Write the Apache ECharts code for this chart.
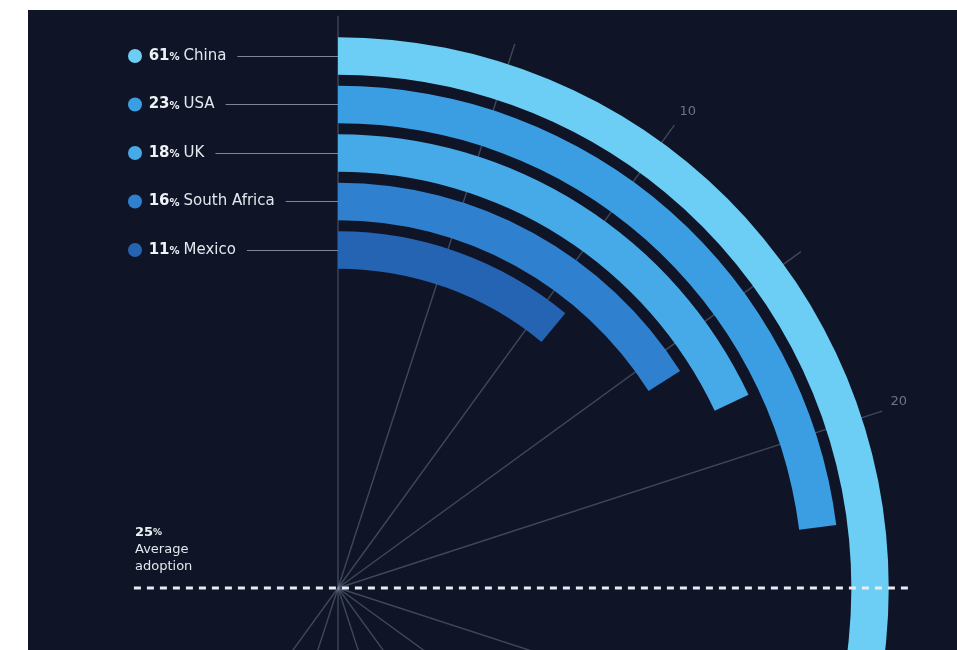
<!DOCTYPE html>
<html>
<head>
<meta charset="utf-8">
<script src="https://cdn.jsdelivr.net/npm/echarts@6/dist/echarts.min.js"></script>
<style>
  html, body { margin: 0; padding: 0; background: #fff; }
  #main { position: absolute; left: 28px; top: 10px; width: 929px; height: 640px; }
</style>
</head>
<body>
<div id="main"></div>
<script>
// adoption by country, inner ring first
var countries = ['Mexico', 'South Africa', 'UK', 'USA', 'China'];
var adoption = [11, 16, 18, 23, 61];
var barColors = ['#2563b3', '#2f80cf', '#47aae8', '#3c9ee2', '#6ccef5'];
var avgAdoption = 25;
var spokeTicks = [0, 5, 10, 15, 20, 25, 30, 35, 40, 45, 50, 55, 60];
var angleLabels = [10, 20];

var bg = '#0f1526';
var chart = echarts.init(document.getElementById('main'));

var rich = {
    pct: { color: '#eef1f5', fontSize: 15, fontWeight: 'bold', fontFamily: 'DejaVu Sans' },
    sign: { color: '#eef1f5', fontSize: 10, fontWeight: 'bold', fontFamily: 'DejaVu Sans', padding: [3, 4, 0, 0] },
    name: { color: '#e3e7ee', fontSize: 15, fontFamily: 'DejaVu Sans' }
};
countries.forEach(function (c, i) {
    rich['dot' + i] = { width: 14, height: 14, borderRadius: 7, backgroundColor: barColors[i] };
});

var series = [];
// spokes
spokeTicks.forEach(function (a) {
    if (a === avgAdoption) return;
    series.push({
        type: 'line',
        coordinateSystem: 'polar',
        polarIndex: 1,
        symbol: 'none',
        silent: true,
        z: 1,
        lineStyle: { color: 'rgba(150,160,182,0.36)', width: 1.4 },
        data: [[0, a], [0.99, a]]
    });
});

series.push({
    type: 'bar',
    coordinateSystem: 'polar',
    polarIndex: 0,
    barCategoryGap: '23%',
    z: 2,
    data: adoption.map(function (v, i) {
        return { value: v, itemStyle: { color: barColors[i] } };
    })
});

// average line
series.push({
    type: 'line',
    coordinateSystem: 'polar',
    polarIndex: 1,
    symbol: 'none',
    silent: true,
    z: 5,
    lineStyle: { color: '#e9ecf3', width: 3, type: [7, 6] },
    data: [[0.986, avgAdoption], [0.362, avgAdoption + 50]]
});

var option = {
    backgroundColor: bg,
    animation: false,
    title: {
        left: 102,
        top: 509,
        text: '{b|' + avgAdoption + '}{s|%}\n{n|Average}\n{n|adoption}',
        textStyle: {
            rich: {
                b: { color: '#eef1f5', fontSize: 13, fontWeight: 'bold', fontFamily: 'DejaVu Sans', lineHeight: 17 },
                s: { color: '#eef1f5', fontSize: 9, fontWeight: 'bold', fontFamily: 'DejaVu Sans', lineHeight: 17 },
                n: { color: '#e3e7ee', fontSize: 13, fontWeight: 'normal', fontFamily: 'DejaVu Sans', lineHeight: 17 }
            }
        }
    },
    polar: [
        { center: [310, 578], radius: [313.7, 556.3] },
        { center: [310, 578], radius: [0, 578] }
    ],
    angleAxis: [
        { polarIndex: 0, type: 'value', min: 0, max: 100, startAngle: 90, clockwise: true, show: false },
        {
            polarIndex: 1, type: 'value', min: 0, max: 100, interval: 10, startAngle: 90, clockwise: true,
            axisLine: { show: false },
            axisTick: { show: false },
            splitLine: { show: false },
            axisLabel: {
                margin: 3,
                color: '#6c7486',
                fontSize: 13,
                fontFamily: 'DejaVu Sans',
                formatter: function (v) { return angleLabels.indexOf(v) >= 0 ? String(v) : ''; }
            }
        }
    ],
    radiusAxis: [
        {
            polarIndex: 0,
            type: 'category',
            data: countries,
            axisLine: { show: false },
            splitLine: { show: false },
            axisTick: { show: true, interval: 0, alignWithLabel: true, length: 200, lineStyle: { color: '#7d8494', width: 1 } },
            axisLabel: {
                interval: 0,
                hideOverlap: false,
                margin: 210,
                align: 'left',
                backgroundColor: bg,
                padding: [3, 11, 3, 0],
                formatter: function (name, i) {
                    return '{dot' + i + '|}  {pct|' + adoption[i] + '}{sign|%}{name|' + name + '}';
                },
                rich: rich
            }
        },
        { polarIndex: 1, type: 'value', min: 0, max: 1, show: false }
    ],
    series: series
};

chart.setOption(option);
</script>
</body>
</html>
